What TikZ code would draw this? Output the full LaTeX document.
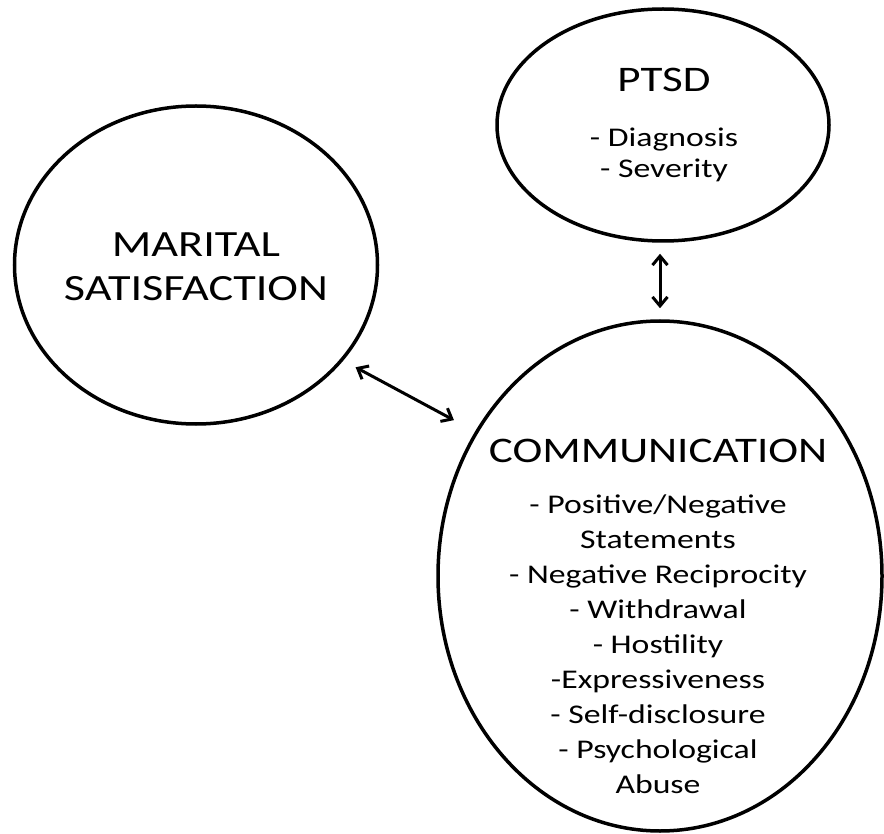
\documentclass[tikz,border=0pt]{standalone}
\usepackage{fontspec}
\setmainfont{Carlito}[FakeStretch=1.25]
\usepackage{tikz}
\usetikzlibrary{shapes,arrows.meta}
\usetikzlibrary{positioning}

\begin{document}
\begin{tikzpicture}[x=1pt,y=-1pt,
    bubble/.style={ellipse,draw,line width=3.5pt,inner sep=0pt},
    head/.style={font=\fontsize{36}{44}\selectfont,align=center,inner sep=0pt,anchor=base},
    items/.style={font=\fontsize{27}{35}\selectfont,align=center,inner sep=0pt,anchor=base},
    twoway/.style={{Straight Barb[length=9pt,width=15pt]}-{Straight Barb[length=9pt,width=15pt]},line width=3pt}]
            \useasboundingbox (0,0) rectangle (884,834);
            \node[bubble,minimum width=332pt,minimum height=232pt] (ptsd) at (663,125) {};
            \node[bubble,minimum width=363pt,minimum height=318pt] (marital) at (196,265) {};
            \node[bubble,minimum width=444pt,minimum height=510pt] (comm) at (660,576) {};
            \node[head] (ptsdtitle) at (664,92) {PTSD};
            \node[items] (ptsdlist) at (664,178) [font=\fontsize{27}{31}\selectfont] {- Diagnosis\\- Severity};
            \node[head] (maritaltitle) at (196,301) [font=\fontsize{37}{44}\selectfont] {MARITAL\\SATISFACTION};
            \node[head] (commtitle) at (658,462) {COMMUNICATION};
            \node[items] (commlist) at (658,793) {- Positive/Negative\\Statements\\- Negative Reciprocity\\- Withdrawal\\- Hostility\\-Expressiveness\\- Self-disclosure\\- Psychological\\Abuse};
            \draw[twoway,shorten <=11pt,shorten >=11pt] (comm.north |- ptsd.south) -- (comm.north);
            \draw[twoway,shorten <=14pt,shorten >=24pt] (marital.-33) -- (comm.142);
        \end{tikzpicture}
\end{document}
